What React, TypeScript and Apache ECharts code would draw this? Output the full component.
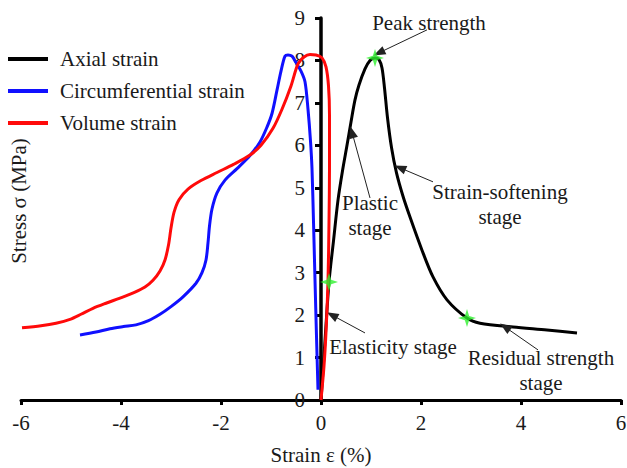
import React, { useEffect, useRef } from 'react';
import * as echarts from 'echarts';

const seriesNames = ['Axial strain', 'Circumferential strain', 'Volume strain'];
const seriesColors = ['#000000', '#1010ff', '#ff0a0a'];

// [strain %, stress MPa]
const axialStrain: number[][] = [
  [0, 0], [0.08, 1.4], [0.16, 2.78], [0.25, 3.75], [0.34, 4.71], [0.43, 5.4], [0.52, 6.0],
  [0.6, 6.55], [0.68, 7.07], [0.76, 7.42], [0.88, 7.8], [0.98, 8.0], [1.08, 8.06],
  [1.16, 8.02], [1.22, 7.82], [1.27, 7.35], [1.33, 6.65], [1.41, 5.95], [1.51, 5.35],
  [1.64, 4.8], [1.78, 4.31], [2.02, 3.53], [2.24, 2.9], [2.52, 2.36], [2.92, 1.93],
  [3.18, 1.81], [3.84, 1.72], [4.52, 1.65], [5.12, 1.58],
];

const circumferentialStrain: number[][] = [
  [-0.06, 0.24], [-0.09, 1.5], [-0.12, 2.83], [-0.15, 4.2], [-0.18, 5.45], [-0.21, 6.1],
  [-0.26, 6.85], [-0.32, 7.5], [-0.4, 7.75], [-0.5, 7.95], [-0.58, 8.1], [-0.66, 8.13],
  [-0.72, 8.1], [-0.8, 7.75], [-0.88, 7.3], [-0.98, 6.75], [-1.08, 6.43], [-1.22, 6.08],
  [-1.42, 5.76], [-1.68, 5.45], [-1.92, 5.18], [-2.08, 4.88], [-2.18, 4.5], [-2.23, 4.1],
  [-2.26, 3.7], [-2.3, 3.3], [-2.38, 3.0], [-2.5, 2.75], [-2.76, 2.43], [-3.0, 2.2],
  [-3.22, 2.02], [-3.45, 1.87], [-3.7, 1.77], [-3.95, 1.73], [-4.22, 1.68], [-4.5, 1.6],
  [-4.82, 1.53],
];

const volumeStrain: number[][] = [
  [0, 0], [0.06, 0.8], [0.1, 1.6], [0.14, 2.8], [0.16, 4.2], [0.17, 5.5], [0.17, 6.7],
  [0.15, 7.4], [0.1, 7.85], [0.02, 8.06], [-0.1, 8.13], [-0.22, 8.14], [-0.34, 8.08],
  [-0.46, 7.92], [-0.6, 7.4], [-0.78, 6.85], [-0.96, 6.4], [-1.2, 6.0], [-1.42, 5.77],
  [-1.75, 5.55], [-2.08, 5.36], [-2.4, 5.17], [-2.66, 4.97], [-2.84, 4.72], [-2.94, 4.42],
  [-3.0, 4.05], [-3.05, 3.65], [-3.12, 3.3], [-3.22, 3.04], [-3.36, 2.82], [-3.52, 2.66],
  [-3.72, 2.54], [-4.02, 2.4], [-4.3, 2.28], [-4.56, 2.16], [-4.8, 2.02], [-5.02, 1.9],
  [-5.3, 1.81], [-5.6, 1.75], [-5.98, 1.7],
];

const keyPoints: number[][] = [[0.16, 2.78], [1.08, 8.06], [2.92, 1.93]];

// annotation arrows: [from, to] in data coords
const arrows: number[][][] = [
  [[2.12, 8.72], [1.16, 8.18]],
  [[0.98, 4.76], [0.62, 6.31]],
  [[2.24, 5.14], [1.58, 5.47]],
  [[0.88, 1.58], [0.22, 2.0]],
  [[4.34, 1.18], [3.68, 1.72]],
];

const annotationTexts = ['Peak strength', 'Plastic\nstage', 'Strain-softening\nstage', 'Elasticity stage', 'Residual strength\nstage'];
const annotationPos: number[][] = [[2.16, 8.88], [0.98, 4.35], [3.58, 4.61], [1.44, 1.25], [4.4, 0.7]];

const xAxisName = 'Strain ε (%)';
const yAxisName = 'Stress σ (MPa)';

const FONT = "'Liberation Serif', serif";
const STAR = 'path://M0,-10 L2.4,-2.4 L10,0 L2.4,2.4 L0,10 L-2.4,2.4 L-10,0 L-2.4,-2.4 Z';

export default function App() {
  const ref = useRef<HTMLDivElement>(null);
  useEffect(() => {
    if (!ref.current) return;
    const chart = echarts.init(ref.current, null, { renderer: 'svg' });
    const lineSeries = [axialStrain, circumferentialStrain, volumeStrain].map((d, i) => ({
      name: seriesNames[i],
      type: 'line',
      data: d,
      showSymbol: false,
      smooth: 0.3,
      lineStyle: { color: seriesColors[i], width: 3 },
      itemStyle: { color: seriesColors[i] },
      z: 3 + i,
    }));
    const option: any = {
      animation: false,
      backgroundColor: '#ffffff',
      grid: { left: 21, right: 6, top: 18, bottom: 68, containLabel: false, outerBoundsMode: 'none' },
      legend: {
        data: seriesNames,
        orient: 'vertical',
        left: 8,
        top: 47,
        padding: 0,
        icon: 'rect',
        itemWidth: 40,
        itemHeight: 4,
        itemGap: 8,
        textStyle: { fontFamily: FONT, fontSize: 21, color: '#1a1a1a', lineHeight: 24, padding: [0, 0, 0, 7] },
      },
      xAxis: {
        type: 'value',
        min: -6,
        max: 6,
        interval: 2,
        name: xAxisName,
        nameLocation: 'middle',
        nameGap: 44,
        nameTextStyle: { fontFamily: FONT, fontSize: 21, color: '#1a1a1a' },
        axisLine: { onZero: false, lineStyle: { color: '#000', width: 3 } },
        axisTick: { show: true, inside: false, length: 5, lineStyle: { color: '#000', width: 3 } },
        axisLabel: { fontFamily: FONT, fontSize: 21, color: '#1a1a1a', margin: 12 },
        splitLine: { show: false },
      },
      yAxis: {
        type: 'value',
        min: 0,
        max: 9,
        interval: 1,
        position: 'left',
        offset: -300,
        axisLine: { onZero: false, lineStyle: { color: '#000', width: 3.5 } },
        axisTick: { show: true, inside: false, length: 6, lineStyle: { color: '#000', width: 3 } },
        axisLabel: { fontFamily: FONT, fontSize: 21, color: '#1a1a1a', margin: 16 },
        splitLine: { show: false },
      },
      series: [
        ...lineSeries,
        {
          name: 'key points',
          type: 'scatter',
          data: keyPoints,
          symbol: STAR,
          symbolSize: 18,
          itemStyle: { color: '#2ef02e' },
          z: 10,
          markLine: {
            silent: true,
            symbol: ['none', 'triangle'],
            symbolSize: [9, 12],
            label: { show: false },
            lineStyle: { color: '#222', width: 1, type: 'solid' },
            data: arrows.map((a) => [
              { coord: a[0], symbol: 'none' },
              { coord: a[1], symbol: 'triangle' },
            ]),
          },
        },
      ],
    };
    chart.setOption(option);
    const grid0 = { gridIndex: 0 } as any;
    const graphic: any[] = annotationTexts.map((t, i) => {
      const p = chart.convertToPixel(grid0, annotationPos[i]) as number[];
      return {
        type: 'text',
        x: p[0],
        y: p[1],
        style: {
          text: t,
          font: `21px ${FONT}`,
          fill: '#1a1a1a',
          textAlign: 'center',
          textVerticalAlign: 'middle',
          lineHeight: 25,
        },
        z: 20,
      };
    });
    graphic.push({
      type: 'text',
      x: 19,
      y: 201,
      rotation: Math.PI / 2,
      style: {
        text: yAxisName,
        font: `21px ${FONT}`,
        fill: '#1a1a1a',
        textAlign: 'center',
        textVerticalAlign: 'middle',
      },
    });
    chart.setOption({ graphic });
    return () => chart.dispose();
  }, []);
  return <div ref={ref} style={{ width: 627, height: 468, position: 'absolute', left: 0, top: 0 }} />;
}
